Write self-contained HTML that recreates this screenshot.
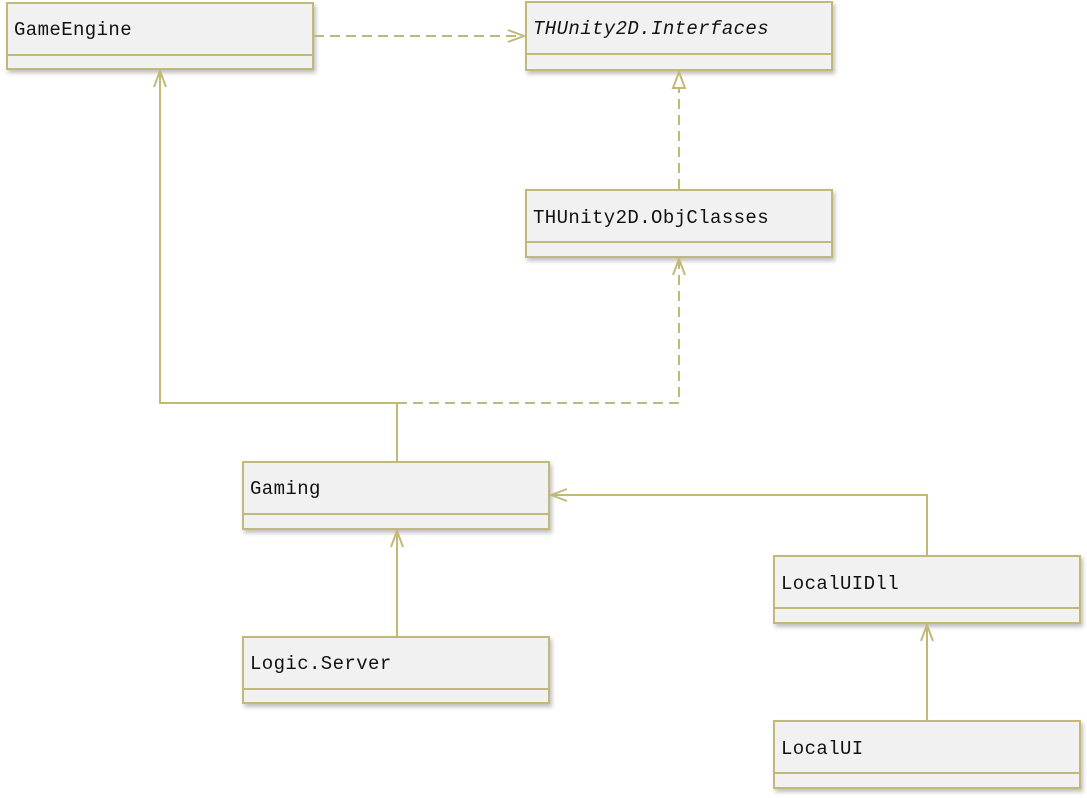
<!DOCTYPE html>
<html><head><meta charset="utf-8"><style>
body{margin:0;background:#fff;width:1087px;height:798px;overflow:hidden}
svg{display:block}
text{font-family:"Liberation Mono",monospace;font-size:19px;fill:#111;letter-spacing:0.4px}
</style></head><body>
<svg width="1087" height="798" viewBox="0 0 1087 798">
<defs>
<filter id="sh" x="-5%" y="-10%" width="115%" height="130%"><feDropShadow dx="2" dy="3" stdDeviation="2" flood-color="#000" flood-opacity="0.25"/></filter>
</defs>
<g stroke="#c2b978" stroke-width="2" fill="#f1f1f1">
<g filter="url(#sh)">
<rect x="7" y="3" width="306" height="66"/>
<rect x="526" y="2" width="306" height="68"/>
<rect x="526" y="190" width="306" height="67"/>
<rect x="243" y="462" width="306" height="67"/>
<rect x="243" y="637" width="306" height="66"/>
<rect x="774" y="556" width="306" height="67"/>
<rect x="774" y="721" width="306" height="67"/>
</g>
<line x1="7" y1="55" x2="313" y2="55"/>
<line x1="526" y1="54" x2="832" y2="54"/>
<line x1="526" y1="242" x2="832" y2="242"/>
<line x1="243" y1="514" x2="549" y2="514"/>
<line x1="243" y1="689" x2="549" y2="689"/>
<line x1="774" y1="608" x2="1080" y2="608"/>
<line x1="774" y1="773" x2="1080" y2="773"/>
</g>
<g stroke="#c2b978" stroke-width="2" fill="none">
<line x1="314" y1="36" x2="524" y2="36" stroke-dasharray="10,6"/>
<polyline points="508,30 524,36 508,42"/>
<line x1="679" y1="189" x2="679" y2="88" stroke-dasharray="10,6"/>
<polygon points="673,88 679,72 685,88" fill="#fff"/>
<polyline points="397,461 397,403 160,403 160,71"/>
<polyline points="154,87 160,71 166,87"/>
<polyline points="397,403 679,403 679,259" stroke-dasharray="10,6"/>
<polyline points="673,275 679,259 685,275"/>
<line x1="397" y1="636" x2="397" y2="531"/>
<polyline points="391,547 397,531 403,547"/>
<polyline points="927,555 927,495 551,495"/>
<polyline points="567,489 551,495 567,501"/>
<line x1="927" y1="720" x2="927" y2="625"/>
<polyline points="921,641 927,625 933,641"/>
</g>
<text x="14" y="35">GameEngine</text>
<text x="533" y="34" font-style="italic">THUnity2D.Interfaces</text>
<text x="533" y="223">THUnity2D.ObjClasses</text>
<text x="250" y="494">Gaming</text>
<text x="250" y="669">Logic.Server</text>
<text x="781" y="589">LocalUIDll</text>
<text x="781" y="754">LocalUI</text>
</svg>
</body></html>
